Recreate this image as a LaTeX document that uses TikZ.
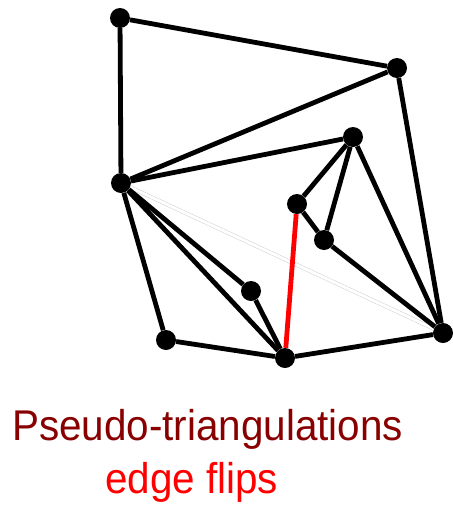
\documentclass[tikz,border=0pt]{standalone}
\usepackage{fontspec}
\setmainfont{Liberation Sans}
\usepackage{tikz}
\definecolor{titlered}{RGB}{136,0,0}

\begin{document}
\begin{tikzpicture}[x=1pt,y=-1pt]
  \useasboundingbox (0,0) rectangle (453,512);
  \tikzset{ptvertex/.style={circle,fill=black,inner sep=0pt,minimum size=20pt}}
  \tikzset{ptedge/.style={line width=4.8pt}}
  \tikzset{caption/.style={anchor=base west, inner sep=0pt, xscale=0.94, transform shape, font=\fontsize{43}{43}\selectfont}}

% points
  \node[ptvertex] (a) at (120, 18) {};
  \node[ptvertex] (b) at (397, 68) {};
  \node[ptvertex] (c) at (121, 183) {};
  \node[ptvertex] (d) at (353, 137) {};
  \node[ptvertex] (e) at (297, 204) {};
  \node[ptvertex] (f) at (324, 240) {};
  \node[ptvertex] (g) at (251, 291) {};
  \node[ptvertex] (h) at (166, 340) {};
  \node[ptvertex] (i) at (285, 358) {};
  \node[ptvertex] (j) at (443, 333) {};

% old diagonal
  \draw[draw=gray!45, line width=0.4pt, double=white, double distance=3pt] (c) -- (j);

% edges
  \draw[ptedge] (a) -- (b);
  \draw[ptedge] (a) -- (c);
  \draw[ptedge] (b) -- (c);
  \draw[ptedge] (b) -- (j);
  \draw[ptedge] (c) -- (d);
  \draw[ptedge] (d) -- (e);
  \draw[ptedge] (d) -- (f);
  \draw[ptedge] (e) -- (f);
  \draw[ptedge] (d) -- (j);
  \draw[ptedge] (f) -- (j);
  \draw[ptedge] (c) -- (g);
  \draw[ptedge] (c) -- (i);
  \draw[ptedge] (g) -- (i);
  \draw[ptedge] (c) -- (h);
  \draw[ptedge] (h) -- (i);
  \draw[ptedge] (i) -- (j);

% flipped edge
  \draw[ptedge, red] (e) -- (i);

% captions
  \node[caption, text=titlered] (title) at (12, 440) {Pseudo-triangulations};
  \node[caption, text=red] (flips) at (105, 493) {edge flips};
\end{tikzpicture}
\end{document}
